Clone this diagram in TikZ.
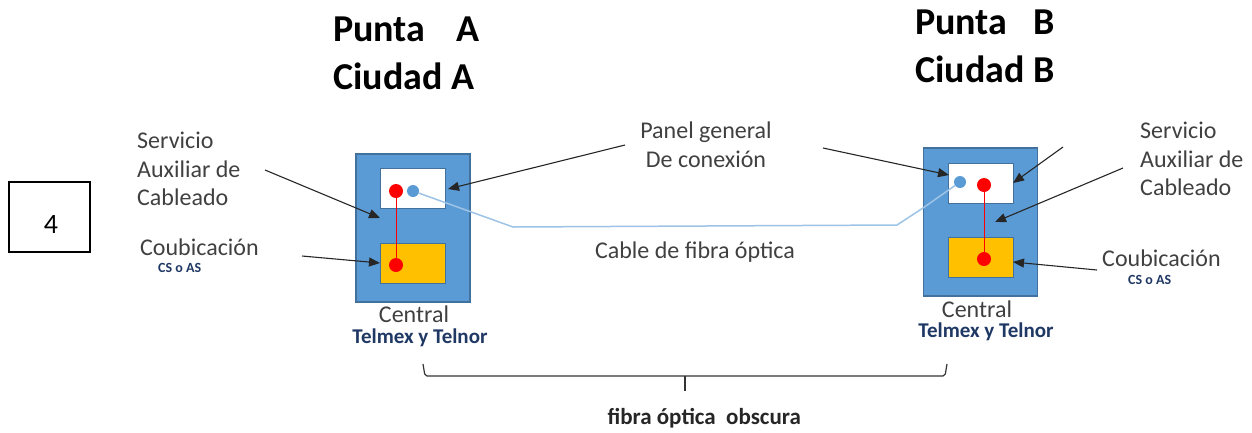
\documentclass[tikz,border=0pt]{standalone}
\usepackage{fontspec}
\setmainfont{Carlito}
\usetikzlibrary{arrows.meta,positioning}
\definecolor{centralblue}{HTML}{5B9BD5}
\definecolor{centraledge}{HTML}{41719C}
\definecolor{cableblue}{HTML}{9DC3E6}
\definecolor{coubgold}{HTML}{FFC000}
\definecolor{labelgray}{HTML}{404040}
\definecolor{navytext}{HTML}{1F3864}

\begin{document}
\begin{tikzpicture}[x=1pt,y=-1pt,
  central/.style={draw=centraledge,line width=1.2pt,fill=centralblue,minimum width=114pt,minimum height=148pt,inner sep=0},
  panel/.style={draw=centraledge,fill=white,minimum width=65pt,minimum height=40pt,inner sep=0},
  coub/.style={draw=centraledge,fill=coubgold,minimum width=65pt,minimum height=40pt,inner sep=0},
  reddot/.style={circle,fill=red,minimum size=14pt,inner sep=0},
  bluedot/.style={circle,fill=centralblue,minimum size=12pt,inner sep=0},
  title/.style={font=\fontsize{38}{48}\selectfont\bfseries,align=left,anchor=north west,inner sep=0},
  label/.style={font=\fontsize{24}{28.5}\selectfont,text=labelgray,align=left,inner sep=0},
  sublabel/.style={font=\fontsize{14}{16}\selectfont\bfseries,text=navytext,inner sep=0,anchor=base west},
  pointer/.style={draw=black!85,line width=1.1pt,-{Triangle[length=11pt,width=9pt]}}]
\useasboundingbox (0,0) rectangle (1252,432);

% numero
\node[draw,line width=1.5pt,minimum width=81pt,minimum height=70pt] (num) at (49.5,217) {};
\node[font=\fontsize{28}{30}\selectfont,anchor=base] (numtxt) at (51,233) {4};

% titulos
\node[title] (puntaA) at (333,17) {Punta\hspace{0.82em}A\\Ciudad A};
\node[title] (puntaB) at (915,10) {Punta\hspace{0.68em}B\\Ciudad B};

% central A
\node[central] (centralA) at (413,228) {};
\node[panel] (panelA) at (412.5,188.5) {};
\node[coub] (coubA) at (412.5,263) {};
\node[reddot] (redA1) at (396,191) {};
\node[reddot] (redA2) at (396,265) {};
\node[bluedot] (blueA) at (413,191) {};
\draw[red,line width=1pt] (redA1) -- (redA2);

% central B
\node[central] (centralB) at (980.5,222) {};
\node[panel] (panelB) at (981,183) {};
\node[coub] (coubB) at (981,257) {};
\node[reddot] (redB1) at (984,185) {};
\node[reddot] (redB2) at (984,259) {};
\node[bluedot] (blueB) at (960,182) {};
\draw[red,line width=1pt] (redB1) -- (redB2);

% cable
\draw[cableblue,line width=1.5pt] (blueA) -- (513,227) -- (897,225) -- (923,208) -- (blueB);

% textos
\node[label,anchor=north west] (svcA) at (137,132) {Servicio\\Auxiliar de\\Cableado};
\node[label,anchor=base west] (coubtxtA) at (140,255) {Coubicación};
\node[sublabel] (csA) at (158,272) {CS o AS};
\node[label,anchor=north west] (svcB) at (1140,122) {Servicio\\Auxiliar de\\Cableado};
\node[label,anchor=base west] (coubtxtB) at (1102,266) {Coubicación};
\node[sublabel] (csB) at (1128,284) {CS o AS};
\node[label,align=center,anchor=north] (paneltxt) at (706,122) {Panel general\\De conexión};
\node[label,anchor=base] (cabletxt) at (695,258) {Cable de fibra óptica};
\node[label,anchor=base] (centraltxtA) at (414,322) {Central};
\node[sublabel,font=\fontsize{21}{23}\selectfont\bfseries,anchor=base] (telA) at (420,343) {Telmex y Telnor};
\node[label,anchor=base] (centraltxtB) at (977,317) {Central};
\node[sublabel,font=\fontsize{21}{23}\selectfont\bfseries,anchor=base] (telB) at (986,337) {Telmex y Telnor};

% flechas
\coordinate (svcAfrom) at (265,170);   \coordinate (svcAtip) at (380,218);
\coordinate (coubAfrom) at (302,256);  \coordinate (coubAtip) at (380,263);
\coordinate (panelAfrom) at (625,145); \coordinate (panelAtip) at (448,189);
\coordinate (panelBfrom) at (823,148); \coordinate (panelBtip) at (949,175);
\coordinate (svcBfrom) at (1063,147);  \coordinate (svcBtip) at (1013,183);
\coordinate (auxBfrom) at (1123,168);  \coordinate (auxBtip) at (995,222);
\coordinate (coubBfrom) at (1097,270); \coordinate (coubBtip) at (1013,262);
\draw[pointer] (svcAfrom) -- (svcAtip);
\draw[pointer] (coubAfrom) -- (coubAtip);
\draw[pointer] (panelAfrom) -- (panelAtip);
\draw[pointer] (panelBfrom) -- (panelBtip);
\draw[pointer] (svcBfrom) -- (svcBtip);
\draw[pointer] (auxBfrom) -- (auxBtip);
\draw[pointer] (coubBfrom) -- (coubBtip);

% llave
\coordinate (braceL) at (423,364); \coordinate (braceR) at (947,364);
\coordinate (braceM) at (685,376); \coordinate (braceT) at (685,391);
\draw[black!80,line width=1.2pt,rounded corners=2pt] (braceL) -- (425,376) -- (945,376) -- (braceR);
\draw[black!80,line width=1.2pt] (braceM) -- (braceT);
\node[font=\fontsize{23}{25}\selectfont\bfseries,text=black!85,anchor=base west] (obscura) at (604,424) {fibra óptica\ \ obscura};
\end{tikzpicture}
\end{document}
